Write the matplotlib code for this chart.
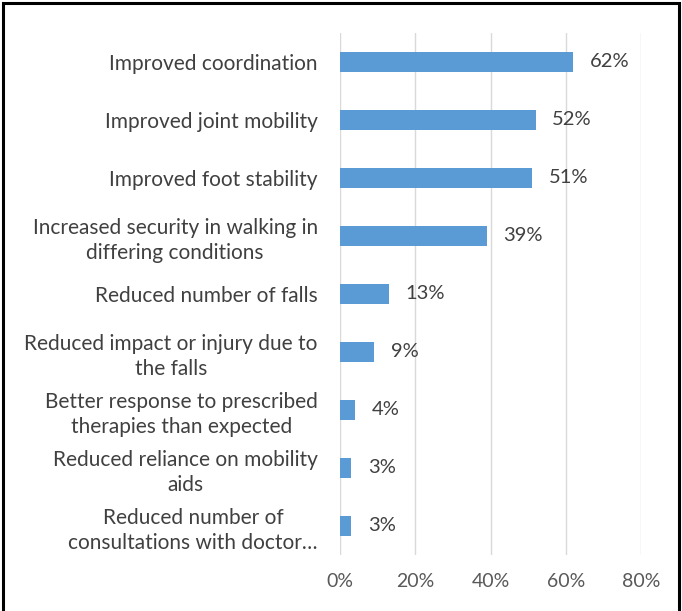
import matplotlib.pyplot as plt
from matplotlib.ticker import PercentFormatter
from matplotlib.patches import Rectangle

# reported benefits, top to bottom
benefits = [
    'Improved coordination',
    'Improved joint mobility',
    'Improved foot stability',
    'Increased security in walking in\ndiffering conditions',
    'Reduced number of falls',
    'Reduced impact or injury due to\nthe falls',
    'Better response to prescribed\ntherapies than expected',
    'Reduced reliance on mobility\naids',
    'Reduced number of\nconsultations with doctor\u2026',
]
share = [0.62, 0.52, 0.51, 0.39, 0.13, 0.09, 0.04, 0.03, 0.03]
x_ticks = [0, 0.2, 0.4, 0.6, 0.8]

plt.rcParams['font.family'] = ['Lato', 'DejaVu Sans']

fig = plt.figure(figsize=(6.82, 6.11), dpi=100)
ax = fig.add_axes([0.4985, 0.0917, 0.4415, 0.8543])

ypos = list(range(len(benefits)))
ax.barh(ypos, share, height=0.36, color='#5b9bd5', zorder=3)
ax.set_ylim(len(benefits) - 0.5, -0.5)
ax.set_xlim(0, 0.8)

for y, v in zip(ypos, share):
    ax.annotate(f'{v:.0%}', (v, y), xytext=(12, 0), textcoords='offset points',
                va='center', ha='left', fontsize=14.5, color='#404040')

ax.set_yticks(ypos)
ax.set_yticklabels(benefits, fontsize=15, color='#404040',
                   multialignment='center', linespacing=1.3)
ax.set_xticks(x_ticks)
ax.xaxis.set_major_formatter(PercentFormatter(1.0, decimals=0))
ax.tick_params(axis='x', labelsize=14, labelcolor='#595959', length=0, pad=13)
ax.tick_params(axis='y', length=0, pad=16)

ax.grid(axis='x', color='#d9d9d9', linewidth=1, zorder=0)
for s in ax.spines.values():
    s.set_visible(False)

# outer frame, open along the bottom edge
fig.patches.append(Rectangle((0.004, -0.01), 0.992, 1.005, transform=fig.transFigure,
                             fill=False, edgecolor='black', linewidth=2.2))

fig.savefig('out.png', dpi=100)
